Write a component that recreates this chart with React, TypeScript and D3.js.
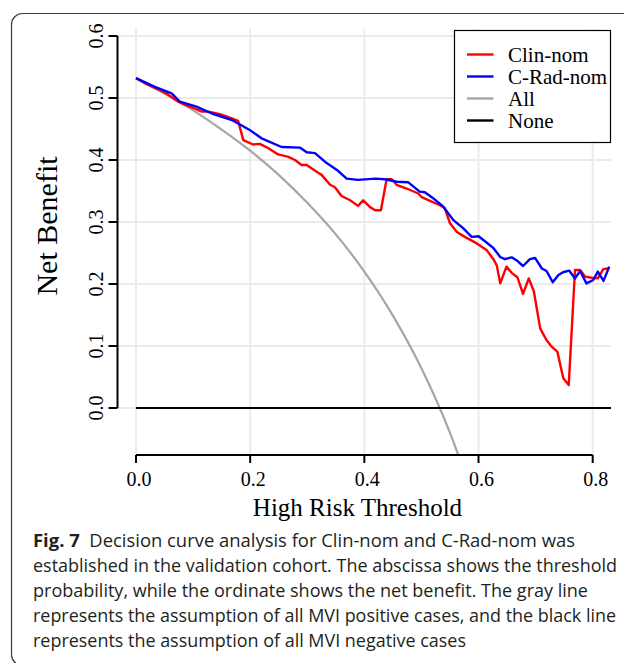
import React from "react";
import * as d3 from "d3";

const xTicks = [0, 0.2, 0.4, 0.6, 0.8];
const yTicks = [0, 0.1, 0.2, 0.3, 0.4, 0.5, 0.6];

const clinNom: [number, number][] = [
  [0, 0.532], [0.0158, 0.5237], [0.039, 0.514], [0.057, 0.505], [0.074, 0.494], [0.086, 0.489],
  [0.103, 0.483], [0.115, 0.478], [0.127, 0.478], [0.147, 0.474], [0.162, 0.469], [0.179, 0.463],
  [0.188, 0.432], [0.205, 0.425], [0.217, 0.426], [0.232, 0.419], [0.249, 0.409], [0.267, 0.405],
  [0.2785, 0.4], [0.29, 0.392], [0.299, 0.392], [0.3165, 0.381], [0.325, 0.376], [0.34, 0.36],
  [0.3485, 0.356], [0.36, 0.342], [0.375, 0.335], [0.389, 0.326], [0.398, 0.335], [0.41, 0.324],
  [0.419, 0.319], [0.429, 0.319], [0.439, 0.369], [0.448, 0.369], [0.4565, 0.36], [0.474, 0.354],
  [0.4945, 0.346], [0.5005, 0.34], [0.515, 0.334], [0.5325, 0.327], [0.541, 0.322], [0.55, 0.298],
  [0.562, 0.284], [0.576, 0.276], [0.597, 0.2655], [0.614, 0.255], [0.626, 0.24], [0.632, 0.23],
  [0.638, 0.201], [0.649, 0.228], [0.658, 0.218], [0.668, 0.211], [0.678, 0.184], [0.688, 0.209],
  [0.697, 0.188], [0.708, 0.1285], [0.719, 0.1097], [0.728, 0.099], [0.738, 0.091], [0.7485, 0.048],
  [0.758, 0.037], [0.769, 0.2226], [0.778, 0.2226], [0.7865, 0.212], [0.798, 0.21], [0.809, 0.209],
  [0.8185, 0.224], [0.829, 0.2255],
];

const cRadNom: [number, number][] = [
  [0, 0.532], [0.033, 0.518], [0.0625, 0.5075], [0.077, 0.494], [0.106, 0.486], [0.133, 0.475],
  [0.168, 0.4645], [0.2, 0.448], [0.22, 0.435], [0.255, 0.421], [0.287, 0.42], [0.299, 0.4125],
  [0.3135, 0.411], [0.334, 0.395], [0.352, 0.384], [0.369, 0.37], [0.389, 0.368], [0.419, 0.37],
  [0.436, 0.369], [0.457, 0.365], [0.477, 0.364], [0.497, 0.349], [0.506, 0.348], [0.521, 0.338],
  [0.538, 0.325], [0.556, 0.303], [0.573, 0.29], [0.588, 0.276], [0.6, 0.277], [0.614, 0.267],
  [0.626, 0.258], [0.638, 0.2435], [0.646, 0.24], [0.658, 0.243], [0.667, 0.238], [0.678, 0.229],
  [0.69, 0.24], [0.699, 0.242], [0.711, 0.225], [0.719, 0.221], [0.73, 0.203], [0.74, 0.2145],
  [0.748, 0.219], [0.759, 0.2215], [0.769, 0.209], [0.778, 0.221], [0.789, 0.201], [0.801, 0.2065],
  [0.809, 0.22], [0.819, 0.205], [0.829, 0.228],
];

const allSeries: [number, number][] = [
  [0, 0.532], [0.05, 0.507], [0.1, 0.48], [0.15, 0.449], [0.2, 0.415], [0.25, 0.376],
  [0.3, 0.331], [0.35, 0.28], [0.4, 0.22], [0.45, 0.149], [0.5, 0.064], [0.55, -0.04], [0.6, -0.17],
];

const noneSeries: [number, number][] = [[0, 0], [0.84, 0]];

const legendItems = [
  { label: "Clin-nom", color: "#ff0000" },
  { label: "C-Rad-nom", color: "#0000ff" },
  { label: "All", color: "#a6a6a6" },
  { label: "None", color: "#000000" },
];

const captionLines = [
  { bold: "Fig. 7", text: "  Decision curve analysis for Clin-nom and C-Rad-nom was", w: 542 },
  { bold: "", text: "established in the validation cohort. The abscissa shows the threshold", w: 584 },
  { bold: "", text: "probability, while the ordinate shows the net benefit. The gray line", w: 555 },
  { bold: "", text: "represents the assumption of all MVI positive cases, and the black line", w: 583 },
  { bold: "", text: "represents the assumption of all MVI negative cases", w: 433 },
];

export default function App() {
  const x = d3.scaleLinear().domain([0, 0.8]).range([136, 592.7]);
  const y = d3.scaleLinear().domain([0, 0.6]).range([408, 36]);
  const plot = { left: 117, right: 611, top: 29, bottom: 455 };

  const line = d3.line<[number, number]>().x((d) => x(d[0])).y((d) => y(d[1]));
  const smooth = d3
    .line<[number, number]>()
    .x((d) => x(d[0]))
    .y((d) => y(d[1]))
    .curve(d3.curveMonotoneX);

  const serif = "'Liberation Serif', 'Times New Roman', serif";
  const sans = "'Open Sans', 'Noto Sans', sans-serif";

  return (
    <svg
      width={624}
      height={663}
      style={{ position: "absolute", left: 0, top: 0, background: "#fff" }}
    >
      <defs>
        <clipPath id="plotClip">
          <rect x={plot.left} y={plot.top} width={plot.right - plot.left} height={plot.bottom - plot.top} />
        </clipPath>
      </defs>
      <rect x={0} y={0} width={624} height={663} fill="#fff" />
      <rect x={11.5} y={13.5} width={640} height={652} rx={11} ry={11} fill="none" stroke="#3a3a3a" strokeWidth={1.2} />

      {/* grid */}
      {xTicks.map((t) => (
        <line key={"gx" + t} x1={x(t)} x2={x(t)} y1={plot.top} y2={plot.bottom} stroke="#ebebeb" strokeWidth={2} />
      ))}
      {yTicks.map((t) => (
        <line key={"gy" + t} x1={plot.left} x2={plot.right} y1={y(t)} y2={y(t)} stroke="#ebebeb" strokeWidth={2} />
      ))}

      <g clipPath="url(#plotClip)" fill="none" strokeLinejoin="round">
        <path d={smooth(allSeries) || ""} stroke="#a6a6a6" strokeWidth={2.2} />
        <path d={line(noneSeries) || ""} stroke="#000" strokeWidth={2.2} />
        <path d={line(clinNom) || ""} stroke="#ff0000" strokeWidth={2.4} />
        <path d={line(cRadNom) || ""} stroke="#0000ff" strokeWidth={2.4} />
      </g>

      {/* x axis */}
      <line x1={x(0)} x2={x(0.8)} y1={455} y2={455} stroke="#000" strokeWidth={2} />
      {xTicks.map((t) => (
        <g key={"xt" + t}>
          <line x1={x(t)} x2={x(t)} y1={455} y2={463} stroke="#000" strokeWidth={2} />
          <text x={x(t) + 3} y={486} textAnchor="middle" fontFamily={serif} fontSize={20} fill="#000">
            {d3.format(".1f")(t)}
          </text>
        </g>
      ))}
      <text x={357.5} y={516} textAnchor="middle" fontFamily={serif} fontSize={25} fill="#000">
        High Risk Threshold
      </text>

      {/* y axis */}
      <line x1={117.5} x2={117.5} y1={y(0)} y2={y(0.6)} stroke="#000" strokeWidth={2} />
      {yTicks.map((t) => (
        <g key={"yt" + t}>
          <line x1={108.5} x2={117.5} y1={y(t)} y2={y(t)} stroke="#000" strokeWidth={2} />
          <text
            transform={`translate(102.5,${y(t)}) rotate(-90)`}
            textAnchor="middle"
            fontFamily={serif}
            fontSize={20}
            fill="#000"
          >
            {d3.format(".1f")(t)}
          </text>
        </g>
      ))}
      <text
        transform={`translate(57,226) rotate(-90)`}
        textAnchor="middle"
        fontFamily={serif}
        fontSize={30}
        fill="#000"
      >
        Net Benefit
      </text>

      {/* legend */}
      <rect x={454.5} y={30.5} width={156} height={112} fill="#fff" stroke="#000" strokeWidth={1.2} />
      {legendItems.map((it, i) => (
        <g key={it.label}>
          <line x1={467} x2={493.5} y1={54.5 + i * 22} y2={54.5 + i * 22} stroke={it.color} strokeWidth={2.4} />
          <text x={508} y={62 + i * 22} fontFamily={serif} fontSize={21} fill="#000">
            {it.label}
          </text>
        </g>
      ))}

      {/* caption */}
      {captionLines.map((c, i) => (
        <text
          key={i}
          x={33}
          y={547 + i * 25}
          fontFamily={sans}
          fontSize={17.5}
          fill="#231f20"
          textLength={c.w}
          lengthAdjust="spacingAndGlyphs"
          style={{ whiteSpace: "pre" }}
        >
          {c.bold ? <tspan fontWeight="bold">{c.bold}</tspan> : null}
          {c.text}
        </text>
      ))}
    </svg>
  );
}
